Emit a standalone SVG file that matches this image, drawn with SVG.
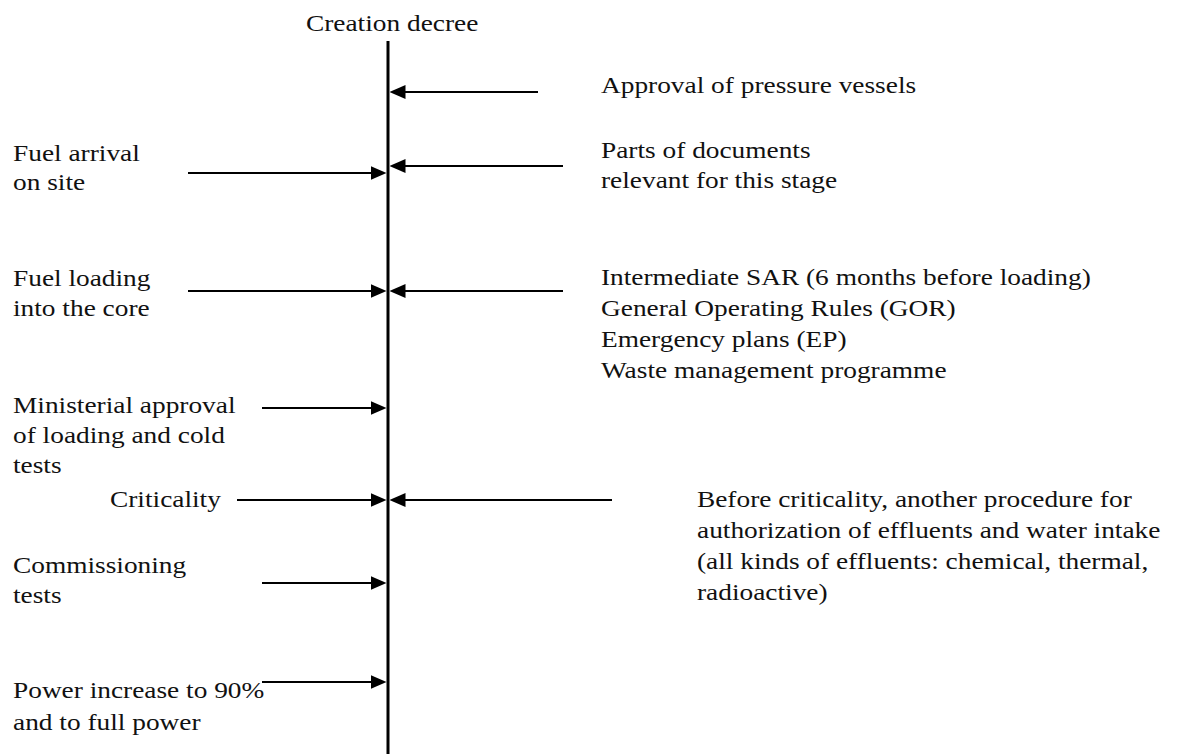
<svg xmlns="http://www.w3.org/2000/svg" width="1180" height="754" viewBox="0 0 1180 754">
  <style>
    text { font-family: 'Liberation Serif', 'Times New Roman', Times, serif; font-size: 24px; fill: #111; }
    .arr { stroke: #000; stroke-width: 2.2; fill: none; marker-end: url(#ah); }
    .axis { stroke: #000; stroke-width: 3; }
  </style>
  <defs>
    <marker id="ah" viewBox="0 0 16 14" refX="12" refY="7" markerWidth="16" markerHeight="14" markerUnits="userSpaceOnUse" orient="auto">
      <path d="M0,0 L16,7 L0,14 z" fill="#000"/>
    </marker>
  </defs>
  <rect width="1180" height="754" fill="#fff"/>

  <!-- timeline axis -->
  <g id="axis">
    <line class="axis" x1="388" y1="41" x2="388" y2="754"/>
    <text transform="translate(306,31) scale(1.14,1)">Creation decree</text>
  </g>

  <!-- connectors -->
  <g id="connectors">
    <line class="arr" x1="538" y1="92" x2="393.5" y2="92"/>
    <line class="arr" x1="188" y1="173" x2="382.5" y2="173"/>
    <line class="arr" x1="563" y1="166" x2="393.5" y2="166"/>
    <line class="arr" x1="188" y1="291" x2="382.5" y2="291"/>
    <line class="arr" x1="563" y1="291" x2="393.5" y2="291"/>
    <line class="arr" x1="262" y1="408" x2="382.5" y2="408"/>
    <line class="arr" x1="237" y1="500" x2="382.5" y2="500"/>
    <line class="arr" x1="612" y1="500" x2="393.5" y2="500"/>
    <line class="arr" x1="262" y1="583" x2="382.5" y2="583"/>
    <line class="arr" x1="262" y1="682" x2="382.5" y2="682"/>
  </g>

  <!-- milestones on the left -->
  <g id="fuel-arrival">
    <text transform="translate(13,161) scale(1.14,1)"><tspan x="0" y="0">Fuel arrival</tspan><tspan x="0" y="29">on site</tspan></text>
  </g>
  <g id="fuel-loading">
    <text transform="translate(13,286) scale(1.14,1)"><tspan x="0" y="0">Fuel loading</tspan><tspan x="0" y="30">into the core</tspan></text>
  </g>
  <g id="ministerial-approval">
    <text transform="translate(13,413) scale(1.14,1)"><tspan x="0" y="0">Ministerial approval</tspan><tspan x="0" y="30">of loading and cold</tspan><tspan x="0" y="60">tests</tspan></text>
  </g>
  <g id="criticality">
    <text transform="translate(110,507) scale(1.14,1)">Criticality</text>
  </g>
  <g id="commissioning">
    <text transform="translate(13,573) scale(1.14,1)"><tspan x="0" y="0">Commissioning</tspan><tspan x="0" y="30">tests</tspan></text>
  </g>
  <g id="power-increase">
    <text transform="translate(13,698) scale(1.14,1)"><tspan x="0" y="0">Power increase to 90%</tspan><tspan x="0" y="32">and to full power</tspan></text>
  </g>

  <!-- requirements on the right -->
  <g id="pressure-vessels">
    <text transform="translate(601,93) scale(1.14,1)">Approval of pressure vessels</text>
  </g>
  <g id="stage-documents">
    <text transform="translate(601,158) scale(1.14,1)"><tspan x="0" y="0">Parts of documents</tspan><tspan x="0" y="30">relevant for this stage</tspan></text>
  </g>
  <g id="loading-documents">
    <text transform="translate(601,285) scale(1.14,1)"><tspan x="0" y="0">Intermediate SAR (6 months before loading)</tspan><tspan x="0" y="31">General Operating Rules (GOR)</tspan><tspan x="0" y="62">Emergency plans (EP)</tspan><tspan x="0" y="93">Waste management programme</tspan></text>
  </g>
  <g id="effluents">
    <text transform="translate(697,507) scale(1.14,1)"><tspan x="0" y="0">Before criticality, another procedure for</tspan><tspan x="0" y="31">authorization of effluents and water intake</tspan><tspan x="0" y="62">(all kinds of effluents: chemical, thermal,</tspan><tspan x="0" y="93">radioactive)</tspan></text>
  </g>
</svg>
